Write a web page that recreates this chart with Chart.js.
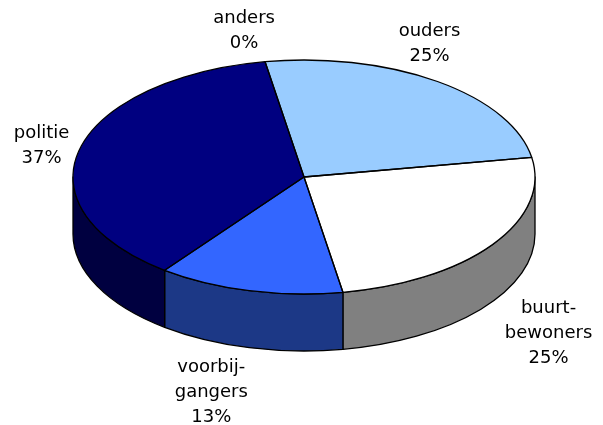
<!DOCTYPE html>
<html>
<head>
<meta charset="utf-8">
<script src="https://cdn.jsdelivr.net/npm/chart.js@4.4.1/dist/chart.umd.min.js"></script>
<style>
  html, body { margin: 0; padding: 0; background: #fff; }
  #pie { display: block; }
</style>
</head>
<body>
<canvas id="pie" width="603" height="425"></canvas>
<script>
// slice names (as printed, one entry per line) and their shares in percent
const categories = [['anders'], ['ouders'], ['buurt-', 'bewoners'], ['voorbij-', 'gangers'], ['politie']];
const shares = [0, 25, 25, 13, 37];
const topColors = ['#993366', '#99ccff', '#ffffff', '#3366ff', '#000080'];
const sideColors = ['#4d1a33', '#4d6680', '#808080', '#1c3886', '#000040'];

// tilted disc: ellipse of the top face and height of the wall
const face = { cx: 304, cy: 177, rx: 231, ry: 117, depth: 57 };
// label block offset from the rim point at each slice's middle
const labelShift = [[-21, -31], [-8, -38], [56, 32], [-38, 45], [-38, -3]];

function rim(t, drop) {
    return {
        x: face.cx + face.rx * Math.cos(t),
        y: face.cy + face.ry * Math.sin(t) + (drop || 0)
    };
}

const tiltPlugin = {
    id: 'tilt',
    beforeDatasetsDraw(chart) {
        const ctx = chart.ctx;
        const arcs = chart.getDatasetMeta(0).data;

        // outer walls, only the half that faces the viewer
        ctx.save();
        ctx.lineWidth = 1.3;
        ctx.strokeStyle = '#000';
        ctx.lineJoin = 'round';
        arcs.forEach((arc, i) => {
            for (let k = -1; k <= 1; k++) {
                const lo = Math.max(arc.startAngle + 2 * Math.PI * k, 0);
                const hi = Math.min(arc.endAngle + 2 * Math.PI * k, Math.PI);
                if (hi - lo <= 1e-6) continue;
                ctx.beginPath();
                ctx.ellipse(face.cx, face.cy, face.rx, face.ry, 0, lo, hi);
                ctx.ellipse(face.cx, face.cy + face.depth, face.rx, face.ry, 0, hi, lo, true);
                ctx.closePath();
                ctx.fillStyle = sideColors[i];
                ctx.fill();
                ctx.stroke();
            }
        });
        ctx.restore();

        // squash the round pie onto the top ellipse
        const a = arcs[0];
        ctx.save();
        ctx.translate(face.cx, face.cy);
        ctx.scale(face.rx / a.outerRadius, face.ry / a.outerRadius);
        ctx.translate(-a.x, -a.y);
    },
    afterDatasetsDraw(chart) {
        const ctx = chart.ctx;
        ctx.restore();

        // slice outlines on the top face
        ctx.save();
        ctx.lineWidth = 1.3;
        ctx.strokeStyle = '#000';
        ctx.lineJoin = 'round';
        chart.getDatasetMeta(0).data.forEach(arc => {
            if (arc.endAngle - arc.startAngle <= 1e-6) return;
            ctx.beginPath();
            ctx.moveTo(face.cx, face.cy);
            ctx.ellipse(face.cx, face.cy, face.rx, face.ry, 0, arc.startAngle, arc.endAngle);
            ctx.closePath();
            ctx.stroke();
        });
        ctx.restore();
    },
    afterDraw(chart) {
        const ctx = chart.ctx;
        const lineHeight = 25;
        ctx.save();
        ctx.font = "18px 'DejaVu Sans', Verdana, sans-serif";
        ctx.fillStyle = '#000';
        ctx.textAlign = 'center';
        ctx.textBaseline = 'middle';
        chart.getDatasetMeta(0).data.forEach((arc, i) => {
            const mid = (arc.startAngle + arc.endAngle) / 2;
            const p = rim(mid, Math.sin(mid) > 0 ? face.depth : 0);
            const lines = categories[i].concat(shares[i] + '%');
            const x = p.x + labelShift[i][0];
            const y = p.y + labelShift[i][1];
            lines.forEach((line, j) => {
                ctx.fillText(line, x, y + (j - (lines.length - 1) / 2) * lineHeight);
            });
        });
        ctx.restore();
    }
};

new Chart(document.getElementById('pie'), {
    type: 'pie',
    data: {
        labels: categories.map(c => c.join('')),
        datasets: [{
            data: shares,
            backgroundColor: topColors,
            borderWidth: 0,
            hoverOffset: 0
        }]
    },
    options: {
        responsive: false,
        animation: false,
        events: [],
        rotation: -9.7,
        clip: false,
        layout: { padding: 0 },
        plugins: {
            legend: { display: false },
            tooltip: { enabled: false }
        }
    },
    plugins: [tiltPlugin]
});
</script>
</body>
</html>
